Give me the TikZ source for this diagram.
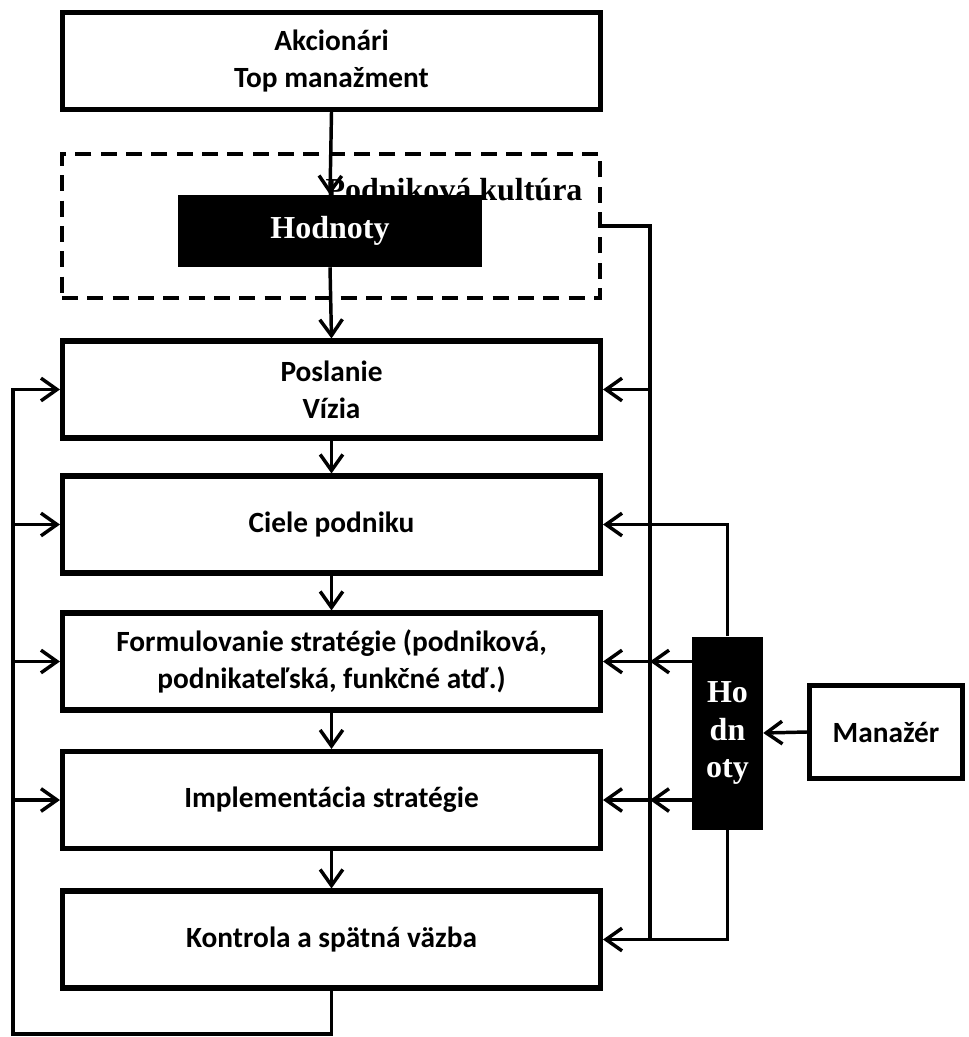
\documentclass[tikz,border=0pt]{standalone}
\usepackage{fontspec}
\setmainfont{Carlito}
\newfontfamily\tnr{Liberation Serif}
\usetikzlibrary{arrows.meta}

\tikzset{
    box/.style={draw, line width=3.8pt, minimum width=538*0.75pt, minimum height=97*0.75pt,
        align=center, inner sep=0pt, font=\fontsize{22}{27.5}\selectfont\bfseries},
    blackbox/.style={fill=black, text=white, inner sep=0pt, align=center,
        font=\fontsize{24}{27.6}\selectfont\tnr\bfseries},
    conn/.style={line width=2.6pt, -{Straight Barb[length=12pt,width=17pt]}},
    wire/.style={line width=2.6pt}
}

\begin{document}
\begin{tikzpicture}[x=0.75pt, y=-0.75pt]
    \useasboundingbox (0,0) rectangle (968,1037);

    \node[box] (top) at (331.5,61) {Akcionári\\Top manažment};

    \node[draw, dashed, line width=3pt, dash pattern=on 12pt off 7pt,
        minimum width=538*0.75pt, minimum height=144*0.75pt, inner sep=0pt] (kult) at (331,226) {};
    \node[font=\fontsize{24}{27.6}\selectfont\tnr\bfseries] (kultlbl) at (454,190) {Podniková kultúra};
    \node[blackbox, minimum width=304*0.75pt, minimum height=72*0.75pt] (hod) at (330,231) {\raisebox{-3pt}{Hodnoty}};

    \node[box] (posl) at (331.5,389.5) {Poslanie\\Vízia};
    \node[box] (ciele) at (331.5,524.5) {Ciele podniku};
    \node[box] (form) at (331.5,661.5) {Formulovanie stratégie (podniková,\\podnikateľská, funkčné atď.)};
    \node[box] (impl) at (331.5,800) {Implementácia stratégie};
    \node[box] (kon) at (331.5,939.5) {Kontrola a spätná väzba};

    \node[blackbox, minimum width=71*0.75pt, minimum height=193*0.75pt,
        font=\fontsize{24}{28}\selectfont\tnr\bfseries] (hodv) at (727.5,733) {Ho\\dn\\oty};
    \node[box, minimum width=153*0.75pt, minimum height=93*0.75pt] (man) at (886,732) {Manažér};

    \coordinate (rail) at (650,0);
    \coordinate (lrail) at (13,0);
    \coordinate (lb) at (13,1034);

    % main chain
    \draw[conn] (top.south) -- (hod.north);
    \draw[conn] (hod.south) -- (posl.north);
    \draw[conn] (posl.south) -- (ciele.north);
    \draw[conn] (ciele.south) -- (form.north);
    \draw[conn] (form.south) -- (impl.north);
    \draw[conn] (impl.south) -- (kon.north);

    % feedback
    \draw[conn] (kon.south) |- (lb) |- (posl.west);
    \foreach \b in {ciele,form,impl} \draw[conn] (lrail |- \b.west) -- (\b.west);

    % culture rail
    \draw[wire] (kult.east) -| (rail |- kon.east);
    \draw[conn] (rail |- posl.east) -- (posl.east);

    % values of the manager
    \draw[conn] (man.west) -- (hodv.east);
    \draw[conn] (hodv.north) |- (ciele.east);
    \foreach \b in {form,impl} {
        \draw[conn] (hodv.west |- \b.east) -- (rail |- \b.east);
        \draw[conn] (rail |- \b.east) -- (\b.east);
    }
    \draw[conn] (hodv.south) |- (kon.east);
\end{tikzpicture}
\end{document}
